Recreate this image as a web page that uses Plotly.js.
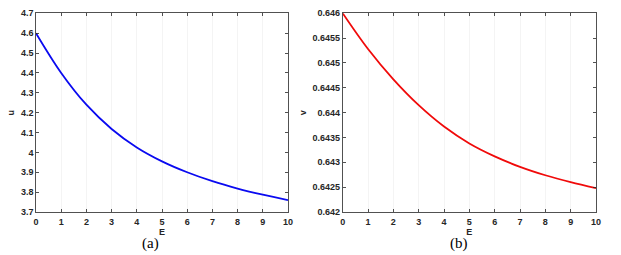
<!DOCTYPE html>
<html>
<head>
<meta charset="utf-8">
<script src="https://cdn.plot.ly/plotly-3.0.1.min.js"></script>
<style>html,body{margin:0;padding:0;background:#fff;}#chart{width:621px;height:255px;}</style>
</head>
<body>
<div id="chart"></div>
<script>
// Data
const E = [0, 1, 2, 3, 4, 5, 6, 7, 8, 9, 10];
const uValues = [4.600, 4.400, 4.240, 4.118, 4.025, 3.955, 3.900, 3.855, 3.818, 3.787, 3.760];
const vValues = [0.64600, 0.64528, 0.64467, 0.64415, 0.64372, 0.64338, 0.64312, 0.64291, 0.64274, 0.64260, 0.64248];
const xTicks = [0, 1, 2, 3, 4, 5, 6, 7, 8, 9, 10];
const uTicks = [3.7, 3.8, 3.9, 4, 4.1, 4.2, 4.3, 4.4, 4.5, 4.6, 4.7];
const uTickText = ['3.7', '3.8', '3.9', '4', '4.1', '4.2', '4.3', '4.4', '4.5', '4.6', '4.7'];
const vTicks = [0.642, 0.6425, 0.643, 0.6435, 0.644, 0.6445, 0.645, 0.6455, 0.646];
const vTickText = ['0.642', '0.6425', '0.643', '0.6435', '0.644', '0.6445', '0.645', '0.6455', '0.646'];
const panelLabels = ['(a)', '(b)'];

const W = 621, H = 255;
const tickFont = {family: 'Arial, "Liberation Sans", sans-serif', size: 9, color: '#262626', weight: 'bold'};

function xAxis(domain, anchor) {
  return {
    domain: domain, anchor: anchor, range: [0, 10],
    tickvals: xTicks, ticktext: xTicks.map(String),
    ticks: 'inside', ticklen: 3, tickcolor: '#262626', tickwidth: 0.8,
    showline: true, linecolor: '#262626', linewidth: 0.8, mirror: 'ticks',
    showgrid: true, gridcolor: '#f4f4f4', gridwidth: 1,
    zeroline: false, tickfont: tickFont, ticklabelstandoff: 1,
    title: {text: 'E', font: tickFont, standoff: 2}
  };
}
function yAxis(domain, anchor, range, tv, tt, title) {
  return {
    domain: domain, anchor: anchor, range: range,
    tickvals: tv, ticktext: tt,
    ticks: 'inside', ticklen: 3, tickcolor: '#262626', tickwidth: 0.8,
    showline: true, linecolor: '#262626', linewidth: 0.8, mirror: 'ticks',
    showgrid: false, zeroline: false, tickfont: tickFont,
    title: {text: title, font: tickFont, standoff: 4}
  };
}

const yDom = [43 / H, 241.7 / H];
const traces = [
  {x: E, y: uValues, xaxis: 'x', yaxis: 'y', mode: 'lines', line: {color: '#0a0af0', width: 1.8, shape: 'spline', smoothing: 1}, hoverinfo: 'skip'},
  {x: E, y: vValues, xaxis: 'x2', yaxis: 'y2', mode: 'lines', line: {color: '#f00a0a', width: 1.8, shape: 'spline', smoothing: 1}, hoverinfo: 'skip'}
];

const layout = {
  width: W, height: H,
  margin: {l: 0, r: 0, t: 0, b: 0},
  paper_bgcolor: '#fff', plot_bgcolor: '#fff',
  showlegend: false,
  xaxis: xAxis([36 / W, 288 / W], 'y'),
  yaxis: yAxis(yDom, 'x', [3.7, 4.7], uTicks, uTickText, 'u'),
  xaxis2: xAxis([342.7 / W, 596 / W], 'y2'),
  yaxis2: yAxis(yDom, 'x2', [0.642, 0.646], vTicks, vTickText, 'v'),
  annotations: [
    {text: panelLabels[0], xref: 'paper', yref: 'paper', x: 150 / W, y: 1 - 243 / H, showarrow: false, xanchor: 'center', yanchor: 'middle', font: {family: '"Liberation Serif", "Times New Roman", serif', size: 15, color: '#000'}},
    {text: panelLabels[1], xref: 'paper', yref: 'paper', x: 459 / W, y: 1 - 243 / H, showarrow: false, xanchor: 'center', yanchor: 'middle', font: {family: '"Liberation Serif", "Times New Roman", serif', size: 15, color: '#000'}}
  ]
};

Plotly.newPlot('chart', traces, layout, {staticPlot: true, displayModeBar: false});
</script>
</body>
</html>
